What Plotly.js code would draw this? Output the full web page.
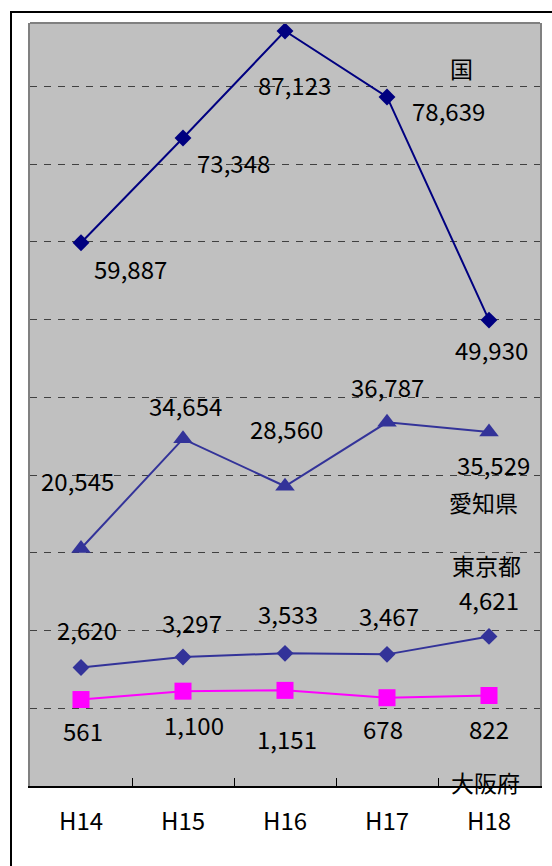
<!DOCTYPE html>
<html><head><meta charset="utf-8">
<script src="https://cdn.plot.ly/plotly-3.0.1.min.js"></script>
<style>
html,body{margin:0;padding:0;overflow:hidden;background:#fff}
#chart{width:552px;height:866px}
#frame{position:absolute;left:10px;top:11px;width:700px;height:1000px;border-left:2px solid #000;border-top:2px solid #000;pointer-events:none}
</style></head>
<body><div id="chart"></div><div id="frame"></div>
<script>
// ---- data ----
const categories = ['H14', 'H15', 'H16', 'H17', 'H18'];
const kuni  = [59887, 73348, 87123, 78639, 49930];   // 国
const aichi = [20545, 34654, 28560, 36787, 35529];   // 愛知県
const tokyo = [2620, 3297, 3533, 3467, 4621];        // 東京都
const osaka = [561, 1100, 1151, 678, 822];           // 大阪府
const seriesNames = ['国', '愛知県', '東京都', '大阪府'];

// ---- label offsets (pixels, dx right / dy down) ----
const offKuni  = [[49, 29], [50, 27], [9, 57], [61, 17], [2, 32]];
const offAichi = [[-4, -65], [2, -30], [1, -55], [0, -33], [4, 35]];
const offTokyo = [[6, -35], [9, -32], [3, -37], [2, -36], [0, -34]];
const offOsaka = [[2, 34], [11, 36], [2, 51], [-4, 34], [0, 36]];
const TEXT_NUDGE = 3; // font baseline correction (px, upward)

const FONT = '"Noto Sans CJK JP", "Noto Sans", sans-serif';

const traces = [
  {x: categories, y: kuni, name: seriesNames[0], yaxis: 'y', mode: 'lines+markers',
   line: {color: '#000080', width: 2}, marker: {symbol: 'diamond', size: 13, color: '#000080'}},
  {x: categories, y: aichi, name: seriesNames[1], yaxis: 'y', mode: 'lines+markers',
   line: {color: '#333399', width: 2}, marker: {symbol: 'triangle-up', size: 17, color: '#333399'}},
  {x: categories, y: tokyo, name: seriesNames[2], yaxis: 'y2', mode: 'lines+markers',
   line: {color: '#333399', width: 2}, marker: {symbol: 'diamond', size: 13, color: '#333399'}},
  {x: categories, y: osaka, name: seriesNames[3], yaxis: 'y2', mode: 'lines+markers',
   line: {color: '#FF00FF', width: 2}, marker: {symbol: 'square', size: 17, color: '#FF00FF'}}
];

const annotations = [];
function addLabels(vals, offs, yref) {
  vals.forEach((v, i) => {
    annotations.push({
      x: i, y: v, xref: 'x', yref: yref, text: v.toLocaleString('en-US'),
      showarrow: false, xanchor: 'center', yanchor: 'middle',
      xshift: offs[i][0], yshift: -offs[i][1] + TEXT_NUDGE,
      font: {family: FONT, size: 24, color: '#000'}
    });
  });
}
addLabels(kuni, offKuni, 'y');
addLabels(aichi, offAichi, 'y');
addLabels(tokyo, offTokyo, 'y2');
addLabels(osaka, offOsaka, 'y2');

const namePos = [[0.847, 0.9405], [0.8887, 0.3721], [0.8949, 0.2902], [0.8924, 0.0055]];
seriesNames.forEach((n, i) => {
  annotations.push({
    x: namePos[i][0], y: namePos[i][1], xref: 'paper', yref: 'paper', text: n,
    showarrow: false, xanchor: 'center', yanchor: 'middle',
    font: {family: FONT, size: 23, color: '#000'}
  });
});

const layout = {
  width: 552, height: 866,
  margin: {l: 30, r: 12, t: 23, b: 80, pad: 0},
  paper_bgcolor: '#ffffff',
  plot_bgcolor: '#C0C0C0',
  showlegend: false,
  font: {family: FONT, color: '#000'},
  xaxis: {
    type: 'category', range: [-0.5, 4.5], fixedrange: true,
    showline: true, linecolor: '#000', linewidth: 2,
    ticks: 'inside', tickson: 'boundaries', ticklen: 8, tickcolor: '#000', tickwidth: 1,
    showgrid: false, zeroline: false,
    tickfont: {family: FONT, size: 24, color: '#000'},
    ticklabelstandoff: 13
  },
  yaxis: {
    range: [-10000, 88150], tick0: 0, dtick: 10000,
    showticklabels: false, ticks: '', zeroline: false,
    showgrid: true, gridcolor: '#404040', gridwidth: 1, griddash: '7px,7px',
    showline: true, mirror: true, linecolor: '#808080', linewidth: 2
  },
  yaxis2: {
    overlaying: 'y', side: 'right', range: [-5000, 44075],
    showticklabels: false, ticks: '', zeroline: false, showgrid: false, showline: false
  },
  shapes: [
    {type: 'line', xref: 'paper', yref: 'paper', x0: 0, x1: 1, y0: 1, y1: 1,
     line: {color: '#808080', width: 2}}
  ],
  annotations: annotations
};

Plotly.newPlot('chart', traces, layout, {displayModeBar: false, staticPlot: true});
</script>
</body></html>
